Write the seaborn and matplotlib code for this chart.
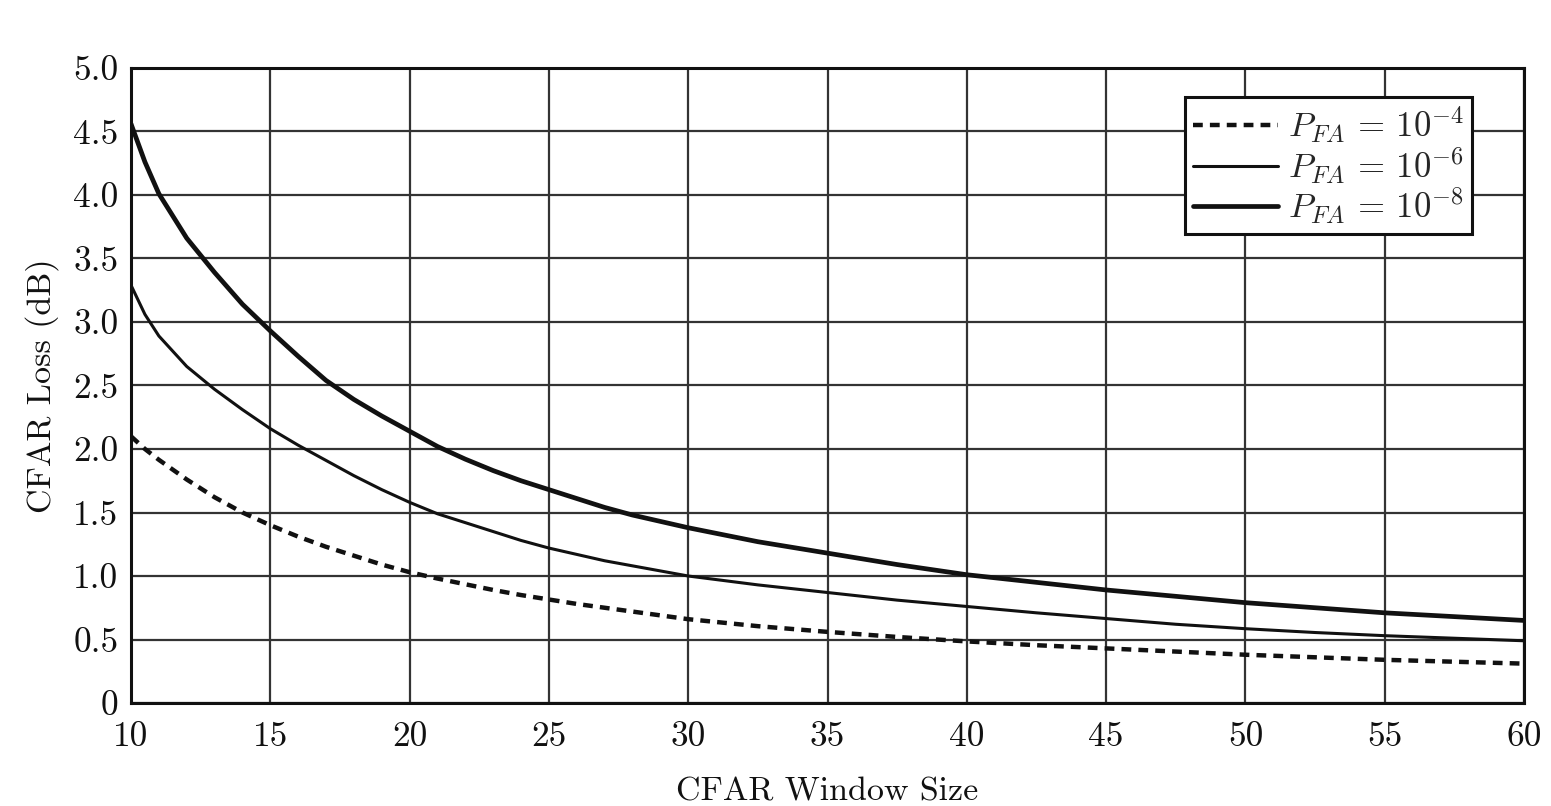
import matplotlib
matplotlib.use("Agg")
import matplotlib.pyplot as plt
import seaborn as sns
import pandas as pd

window_size = [10, 10.5, 11, 12, 13, 14, 15, 16, 17, 18, 19, 20, 21, 22, 23, 24, 25, 26, 27, 28, 29, 30,
               32.5, 35, 37.5, 40, 42.5, 45, 47.5, 50, 52.5, 55, 57.5, 60]
loss_pfa_1e4 = [2.10, 2.00, 1.915, 1.76, 1.62, 1.50, 1.40, 1.31, 1.23, 1.16, 1.09, 1.03, 0.98, 0.935, 0.89, 0.85,
                0.815, 0.78, 0.75, 0.72, 0.69, 0.66,
                0.605, 0.56, 0.52, 0.485, 0.455, 0.43, 0.405, 0.38, 0.36, 0.34, 0.325, 0.31]
loss_pfa_1e6 = [3.29, 3.06, 2.89, 2.65, 2.47, 2.31, 2.16, 2.03, 1.91, 1.79, 1.68, 1.58, 1.49, 1.42, 1.35, 1.28,
                1.22, 1.17, 1.12, 1.08, 1.04, 1.00,
                0.93, 0.87, 0.81, 0.76, 0.71, 0.665, 0.62, 0.585, 0.555, 0.53, 0.51, 0.49]
loss_pfa_1e8 = [4.56, 4.26, 4.01, 3.66, 3.39, 3.14, 2.93, 2.73, 2.54, 2.39, 2.26, 2.14, 2.02, 1.92, 1.83, 1.75,
                1.68, 1.61, 1.54, 1.48, 1.43, 1.38,
                1.27, 1.18, 1.09, 1.01, 0.95, 0.89, 0.84, 0.79, 0.75, 0.71, 0.68, 0.65]
series_labels = [r"$P_{FA}\,=\,10^{-4}$", r"$P_{FA}\,=\,10^{-6}$", r"$P_{FA}\,=\,10^{-8}$"]
x_ticks = [10, 15, 20, 25, 30, 35, 40, 45, 50, 55, 60]
y_ticks = [0, 0.5, 1.0, 1.5, 2.0, 2.5, 3.0, 3.5, 4.0, 4.5, 5.0]
y_tick_labels = ["0", "0.5", "1.0", "1.5", "2.0", "2.5", "3.0", "3.5", "4.0", "4.5", "5.0"]

sns.set_style("white")
plt.rcParams["font.family"] = ["serif"]
plt.rcParams["font.serif"] = ["cmr10", "DejaVu Serif"]
plt.rcParams["mathtext.fontset"] = "cm"
plt.rcParams["axes.unicode_minus"] = False

fig = plt.figure(figsize=(15.51, 8.06), dpi=100)
ax = fig.add_axes([131 / 1551, 103 / 806, 1393 / 1551, 635 / 806])

styles = [
    dict(linestyle=(0, (2.2, 1.6)), linewidth=3.2),
    dict(linestyle="-", linewidth=2.2),
    dict(linestyle="-", linewidth=3.4),
]
series = [loss_pfa_1e4, loss_pfa_1e6, loss_pfa_1e8]
for vals, lab, st in zip(series, series_labels, styles):
    df = pd.DataFrame({"x": window_size, "y": vals})
    sns.lineplot(data=df, x="x", y="y", ax=ax, color="#111111", label=lab, **st)

ax.set_xlim(10, 60)
ax.set_ylim(0, 5)
ax.set_xticks(x_ticks)
ax.set_xticklabels([str(t) for t in x_ticks])
ax.set_yticks(y_ticks)
ax.set_yticklabels(y_tick_labels)
ax.grid(True, color="#333333", linewidth=1.6)
ax.set_axisbelow(True)
for s in ax.spines.values():
    s.set_color("#111111")
    s.set_linewidth(2.2)
ax.tick_params(axis="x", which="both", length=0, labelsize=25.5, colors="#111111", pad=13)
ax.tick_params(axis="y", which="both", length=0, labelsize=25.5, colors="#111111", pad=9)
ax.set_xlabel("CFAR Window Size", fontsize=24.5, color="#111111", labelpad=18)
ax.set_ylabel("CFAR Loss (dB)", fontsize=24.5, color="#111111", labelpad=10)

leg = ax.legend(loc="upper right", bbox_to_anchor=((1472 - 131) / 1393, 1 - 29 / 635),
                borderaxespad=0, fontsize=25, frameon=True,
                fancybox=False, framealpha=1, edgecolor="#111111", handlelength=2.45,
                labelspacing=0.0, borderpad=0.22, handletextpad=0.3)
leg.get_frame().set_linewidth(2.2)

fig.savefig("out.png", dpi=100)
